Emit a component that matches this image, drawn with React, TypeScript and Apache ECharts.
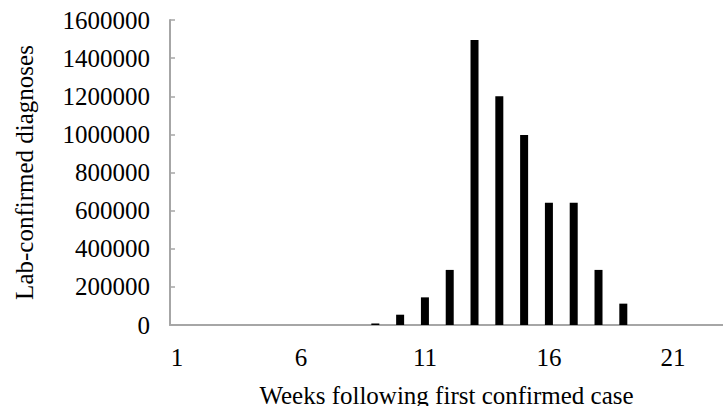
import React, { useEffect, useRef } from "react";
import * as echarts from "echarts";

const weeks = [9, 10, 11, 12, 13, 14, 15, 16, 17, 18, 19];
const diagnoses = [8000, 54000, 145000, 289000, 1495000, 1200000, 997000, 641000, 641000, 289000, 112000];
const xTickLabels = [1, 6, 11, 16, 21];
const yTitle = "Lab-confirmed diagnoses";
const xTitle = "Weeks following first confirmed case";

export default function App() {
  const ref = useRef<HTMLDivElement>(null);
  useEffect(() => {
    document.body.style.margin = "0";
    if (!ref.current) return;
    const chart = echarts.init(ref.current, undefined, { renderer: "svg" });
    const font = "'Liberation Serif', 'Times New Roman', serif";
    chart.setOption({
      animation: false,
      backgroundColor: "#ffffff",
      grid: { left: 170, right: 0, top: 20, bottom: 81, containLabel: false, outerBoundsMode: "none" },
      xAxis: {
        type: "value",
        min: 0.72,
        max: 23.02,
        name: xTitle,
        nameLocation: "middle",
        nameGap: 58,
        nameTextStyle: { fontFamily: font, fontSize: 25, color: "#000" },
        axisLine: { show: true, lineStyle: { color: "#a6a6a6", width: 2 } },
        axisTick: { show: false },
        splitLine: { show: false },
        axisLabel: {
          customValues: xTickLabels,
          fontFamily: font,
          fontSize: 25,
          color: "#000",
          margin: 20,
        },
      },
      yAxis: {
        type: "value",
        min: 0,
        max: 1600000,
        interval: 200000,
        name: yTitle,
        nameLocation: "middle",
        nameGap: 133,
        nameRotate: 90,
        nameTextStyle: { fontFamily: font, fontSize: 25, color: "#000" },
        axisLine: { show: true, lineStyle: { color: "#a6a6a6", width: 2 } },
        axisTick: { show: true, inside: true, length: 5, lineStyle: { color: "#a6a6a6", width: 1.5 } },
        splitLine: { show: false },
        axisLabel: {
          fontFamily: font,
          fontSize: 25,
          color: "#000",
          margin: 20,
          formatter: (v: number) => String(v),
        },
      },
      series: [
        {
          type: "bar",
          data: weeks.map((w, i) => [w, diagnoses[i]]),
          barWidth: 8,
          itemStyle: { color: "#000" },
        },
      ],
    });
    return () => chart.dispose();
  }, []);
  return <div ref={ref} style={{ width: 723, height: 406 }} />;
}
